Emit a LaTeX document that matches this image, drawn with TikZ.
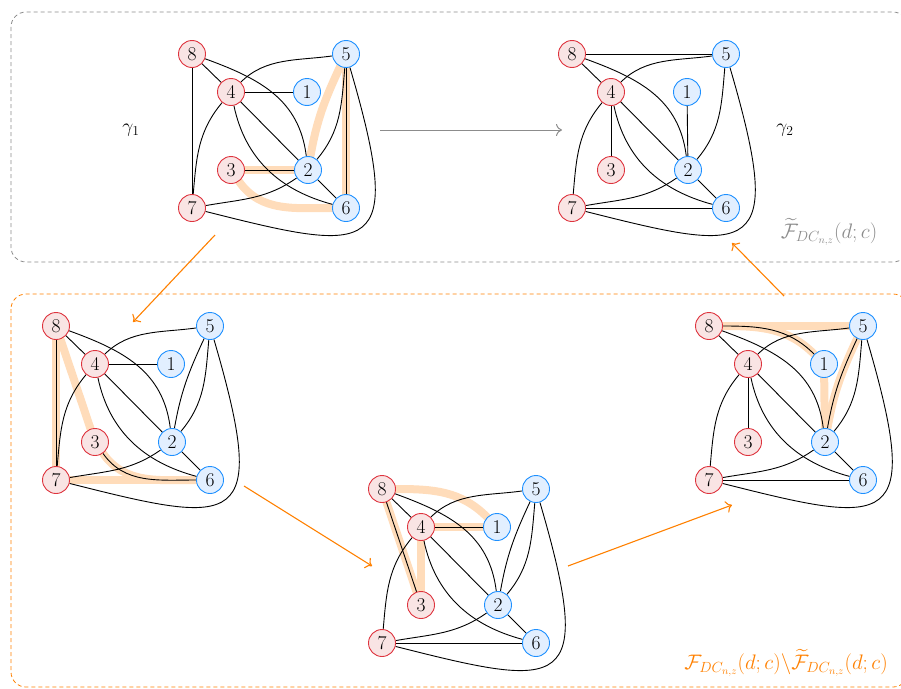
\RequirePackage{fix-cm}
\documentclass[tikz,border=0pt]{standalone}
\usepackage{amsmath,amssymb}
\usetikzlibrary{arrows.meta}
\definecolor{nred}{RGB}{222,52,62}
\definecolor{nredfill}{RGB}{249,228,228}
\definecolor{nblue}{RGB}{30,144,255}
\definecolor{nbluefill}{RGB}{226,239,255}
\definecolor{hlcol}{RGB}{255,220,186}
\definecolor{myorange}{RGB}{255,128,0}
\definecolor{mygray}{RGB}{140,140,140}
\pgfdeclarelayer{hlay}
\pgfdeclarelayer{elay}
\pgfsetlayers{hlay,elay,main}
\tikzset{
  rn/.style={circle, draw=nred, fill=nredfill, line width=0.9pt, minimum size=27pt, inner sep=0pt},
  bn/.style={circle, draw=nblue, fill=nbluefill, line width=0.9pt, minimum size=27pt, inner sep=0pt},
  edge/.style={line width=0.9pt, black},
  hlband/.style={line width=8pt, hlcol, line cap=round},
  flow/.style={myorange, line width=1.1pt, -{To[length=6pt,width=12pt]}},
  grayflow/.style={mygray, line width=1pt, -{To[length=6pt,width=12pt]}},
  framegray/.style={mygray, line width=0.8pt, dash pattern=on 4pt off 3pt, rounded corners=15pt},
  frameorange/.style={myorange, line width=0.8pt, dash pattern=on 4pt off 3pt, rounded corners=15pt},
  biglabel/.style={font=\fontsize{21}{25}\selectfont},
}
\newcommand\gnodes[1]{%
  \node[rn] (#1-8) at (0,0) {8};
  \node[rn] (#1-4) at (39,-38) {4};
  \node[bn] (#1-1) at (115,-38) {1};
  \node[bn] (#1-5) at (154,0) {5};
  \node[rn] (#1-3) at (39,-116) {3};
  \node[bn] (#1-2) at (116,-116) {2};
  \node[rn] (#1-7) at (0,-154) {7};
  \node[bn] (#1-6) at (154,-154) {6};
}
\newcommand\gcommon[1]{%
  \draw[edge] (#1-8) -- (#1-4);
  \draw[edge] (#1-8) to[out=-20,in=97,looseness=1.05] (#1-2);
  \draw[edge] (#1-4) to[out=45,in=188,looseness=0.95] (#1-5);
  \draw[edge] (#1-4) to[out=-130,in=85] (#1-7);
  \draw[edge] (#1-4) -- (#1-2);
  \draw[edge] (#1-4) to[out=-78,in=165] (#1-6);
  \draw[edge] (#1-2) to[out=-145,in=10] (#1-7);
  \draw[edge] (#1-2) -- (#1-6);
  \draw[edge] (#1-2) to[out=50,in=-95] (#1-5);
  \draw[edge] (#1-7) .. controls +(182,-46) and +(60,-205) .. (#1-5);
}
\begin{document}
\begin{tikzpicture}[x=1pt,y=1pt, every node/.style={font=\fontsize{19.5}{23}\selectfont}]
\useasboundingbox (0,0) rectangle (901,-688);
% frames
\draw[framegray] (11,-12) rectangle (908,-262);
\draw[frameorange] (11,-294) rectangle (908,-687);
% nodes
\begin{scope}[shift={(192,-54)}]\gnodes{a}\end{scope}
\begin{scope}[shift={(572,-54)}]\gnodes{b}\end{scope}
\begin{scope}[shift={(56,-326)}]\gnodes{c}\end{scope}
\begin{scope}[shift={(382,-489)}]\gnodes{d}\end{scope}
\begin{scope}[shift={(709,-326)}]\gnodes{e}\end{scope}
% labels
\node (g1) at (131,-130) {$\gamma_1$};
\node (g2) at (785,-130) {$\gamma_2$};
\node[biglabel, text=mygray] (lab1) at (829,-232) {$\widetilde{\mathcal{F}}_{DC_{n,z}}(d;c)$};
\node[biglabel, text=myorange] (lab2) at (786,-663) {$\mathcal{F}_{DC_{n,z}}(d;c){\setminus}\widetilde{\mathcal{F}}_{DC_{n,z}}(d;c)$};
% arrows
\coordinate (p1s) at (380,-130); \coordinate (p1e) at (562,-130);
\draw[grayflow] (p1s) -- (p1e);
\coordinate (q1s) at (215,-235); \coordinate (q1e) at (133,-322);
\draw[flow] (q1s) -- (q1e);
\coordinate (q2s) at (244,-486); \coordinate (q2e) at (372,-566);
\draw[flow] (q2s) -- (q2e);
\coordinate (q3s) at (568,-566); \coordinate (q3e) at (732,-505);
\draw[flow] (q3s) -- (q3e);
\coordinate (q4s) at (784,-296); \coordinate (q4e) at (732,-243);
\draw[flow] (q4s) -- (q4e);
% highlights
\begin{pgfonlayer}{hlay}
  \draw[hlband] (a-3) -- (a-2);
  \draw[hlband] (a-2) to[out=80,in=-115] (a-5);
  \draw[hlband] (a-5) -- (a-6);
  \draw[hlband] (a-3) to[out=-55,in=180] (a-6);
  \draw[hlband] (c-8) -- (c-7);
  \draw[hlband] (c-7) -- (c-6);
  \draw[hlband] (c-3) to[out=-55,in=180] (c-6);
  \draw[hlband] (c-8) -- (c-3);
  \draw[hlband] (d-8) -- (d-3);
  \draw[hlband] (d-4) -- (d-3);
  \draw[hlband] (d-4) -- (d-1);
  \draw[hlband] (d-8) to[out=0,in=135] (d-1);
  \draw[hlband] (e-8) to[out=0,in=135] (e-1);
  \draw[hlband] (e-8) -- (e-5);
  \draw[hlband] (e-1) -- (e-2);
  \draw[hlband] (e-2) to[out=80,in=-115] (e-5);
\end{pgfonlayer}
% edges
\begin{pgfonlayer}{elay}
  \gcommon{a}
  \draw[edge] (a-8) -- (a-7);
  \draw[edge] (a-4) -- (a-1);
  \draw[edge] (a-3) -- (a-2);
  \draw[edge] (a-5) -- (a-6);
  \gcommon{b}
  \draw[edge] (b-8) -- (b-5);
  \draw[edge] (b-4) -- (b-3);
  \draw[edge] (b-1) -- (b-2);
  \draw[edge] (b-7) -- (b-6);
  \gcommon{c}
  \draw[edge] (c-8) -- (c-7);
  \draw[edge] (c-4) -- (c-1);
  \draw[edge] (c-3) to[out=-55,in=180] (c-6);
  \draw[edge] (c-2) to[out=80,in=-115] (c-5);
  \gcommon{d}
  \draw[edge] (d-8) -- (d-3);
  \draw[edge] (d-4) -- (d-1);
  \draw[edge] (d-7) -- (d-6);
  \draw[edge] (d-2) to[out=80,in=-115] (d-5);
  \gcommon{e}
  \draw[edge] (e-4) -- (e-3);
  \draw[edge] (e-8) to[out=0,in=135] (e-1);
  \draw[edge] (e-7) -- (e-6);
  \draw[edge] (e-2) to[out=80,in=-115] (e-5);
\end{pgfonlayer}
\end{tikzpicture}
\end{document}
